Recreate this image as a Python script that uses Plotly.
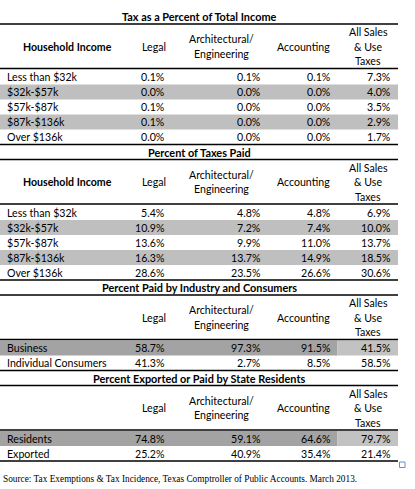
import plotly.graph_objects as go

# ---------------- data ----------------
section_titles = [
    "Tax as a Percent of Total Income",
    "Percent of Taxes Paid",
    "Percent Paid by Industry and Consumers",
    "Percent Exported or Paid by State Residents",
]
income_labels = ["Less than $32k", "$32k-$57k", "$57k-$87k", "$87k-$136k", "Over $136k"]
industry_labels = ["Business", "Individual Consumers"]
resident_labels = ["Residents", "Exported"]

col_headers = [["Legal"], ["Architectural/", "Engineering"], ["Accounting"], ["All Sales", "& Use", "Taxes"]]

# Tax as a Percent of Total Income
inc_legal = [0.1, 0.0, 0.1, 0.1, 0.0]
inc_arch = [0.1, 0.0, 0.0, 0.0, 0.0]
inc_acct = [0.1, 0.0, 0.0, 0.0, 0.0]
inc_sales = [7.3, 4.0, 3.5, 2.9, 1.7]

# Percent of Taxes Paid
paid_legal = [5.4, 10.9, 13.6, 16.3, 28.6]
paid_arch = [4.8, 7.2, 9.9, 13.7, 23.5]
paid_acct = [4.8, 7.4, 11.0, 14.9, 26.6]
paid_sales = [6.9, 10.0, 13.7, 18.5, 30.6]

# Percent Paid by Industry and Consumers
ind_legal = [58.7, 41.3]
ind_arch = [97.3, 2.7]
ind_acct = [91.5, 8.5]
ind_sales = [41.5, 58.5]

# Percent Exported or Paid by State Residents
res_legal = [74.8, 25.2]
res_arch = [59.1, 40.9]
res_acct = [64.6, 35.4]
res_sales = [79.7, 21.4]

source_text = "Source: Tax Exemptions & Tax Incidence, Texas Comptroller of Public Accounts. March 2013."

sections = [
    dict(title=section_titles[0], rows=income_labels, cols=[inc_legal, inc_arch, inc_acct, inc_sales], row_header="Household Income", style="stripe"),
    dict(title=section_titles[1], rows=income_labels, cols=[paid_legal, paid_arch, paid_acct, paid_sales], row_header="Household Income", style="stripe"),
    dict(title=section_titles[2], rows=industry_labels, cols=[ind_legal, ind_arch, ind_acct, ind_sales], row_header="", style="first"),
    dict(title=section_titles[3], rows=resident_labels, cols=[res_legal, res_arch, res_acct, res_sales], row_header="", style="first"),
]

# ---------------- layout geometry (page pixel units) ----------------
W, H = 415, 489
TABLE_L, TABLE_R = 0, 398
LABEL_X = 5
ROWHDR_X = 67
HDR_CX = [153.7, 221, 303.5, 368]
VAL_RX = [166.7, 262.7, 333.3, 392.7]
SPLIT_X = 337.5
ROW_H = 15
HDR_LINE_SP = 14.5

FONT = "Lato, Calibri, sans-serif"
FS = 10.6
GRAY = "#bfbfbf"
DARK = "#a3a3a3"
LIGHT = "#c2c2c2"

shapes = []
annotations = []


def hline(y):
    shapes.append(dict(type="line", xref="x", yref="y", x0=TABLE_L, x1=TABLE_R, y0=y, y1=y,
                       line=dict(color="black", width=1.5), layer="above"))


def rect(x0, x1, y0, y1, color):
    shapes.append(dict(type="rect", xref="x", yref="y", x0=x0, x1=x1, y0=y0, y1=y1,
                       fillcolor=color, line=dict(width=0), layer="below"))


def text(x, y, s, anchor="center", bold=False, size=FS, family=FONT):
    annotations.append(dict(x=x, y=y, xref="x", yref="y", text=f"<b>{s}</b>" if bold else s,
                            showarrow=False, xanchor=anchor, yanchor="middle",
                            font=dict(family=family, size=size, color="black")))


y0 = 9.0
for sec in sections:
    title_y = y0 + 7.5
    top_line = y0 + 15
    hdr_c = top_line + 22.5
    hdr_line = top_line + 44.5
    text(TABLE_R / 2, title_y, sec["title"], bold=True, size=FS + 0.3)
    hline(top_line)
    if sec["row_header"]:
        text(ROWHDR_X, hdr_c, sec["row_header"], bold=True)
    for cx, lines in zip(HDR_CX, col_headers):
        n = len(lines)
        for k, ln in enumerate(lines):
            text(cx, hdr_c + (k - (n - 1) / 2) * HDR_LINE_SP, ln)
    hline(hdr_line)
    for i, lab in enumerate(sec["rows"]):
        rc = hdr_line + 8.5 + ROW_H * i
        if sec["style"] == "stripe" and i % 2 == 1:
            rect(TABLE_L, TABLE_R, rc - 7.5, rc + 7.5, GRAY)
        if sec["style"] == "first" and i == 0:
            rect(TABLE_L, SPLIT_X, rc - 7.5, rc + 7.5, DARK)
            rect(SPLIT_X, TABLE_R, rc - 7.5, rc + 7.5, LIGHT)
        text(LABEL_X, rc, lab, anchor="left")
        for rx, col in zip(VAL_RX, sec["cols"]):
            text(rx, rc, f"{col[i]:.1f}%", anchor="right")
    bottom = hdr_line + ROW_H * len(sec["rows"]) + 1
    hline(bottom)
    y0 = bottom

# small selection handle square
shapes.append(dict(type="rect", xref="x", yref="y", x0=399.5, x1=405, y0=462, y1=467.5,
                   fillcolor="white", line=dict(color="#6b8ccf", width=1)))

text(0.5, 478.5, source_text, anchor="left", size=9.3, family="Liberation Serif, Times New Roman, serif")

fig = go.Figure()
fig.add_trace(go.Scatter(x=[0, W], y=[0, H], mode="markers", marker=dict(opacity=0),
                         hoverinfo="skip", showlegend=False))
fig.update_layout(
    width=W, height=H, margin=dict(l=0, r=0, t=0, b=0),
    paper_bgcolor="white", plot_bgcolor="white",
    xaxis=dict(range=[0, W], visible=False, fixedrange=True),
    yaxis=dict(range=[H, 0], visible=False, fixedrange=True),
    shapes=shapes, annotations=annotations, showlegend=False,
)
fig.write_html("out.html", config={"displayModeBar": False},
               post_script="document.body.style.margin='0';document.body.style.overflow='hidden';")
